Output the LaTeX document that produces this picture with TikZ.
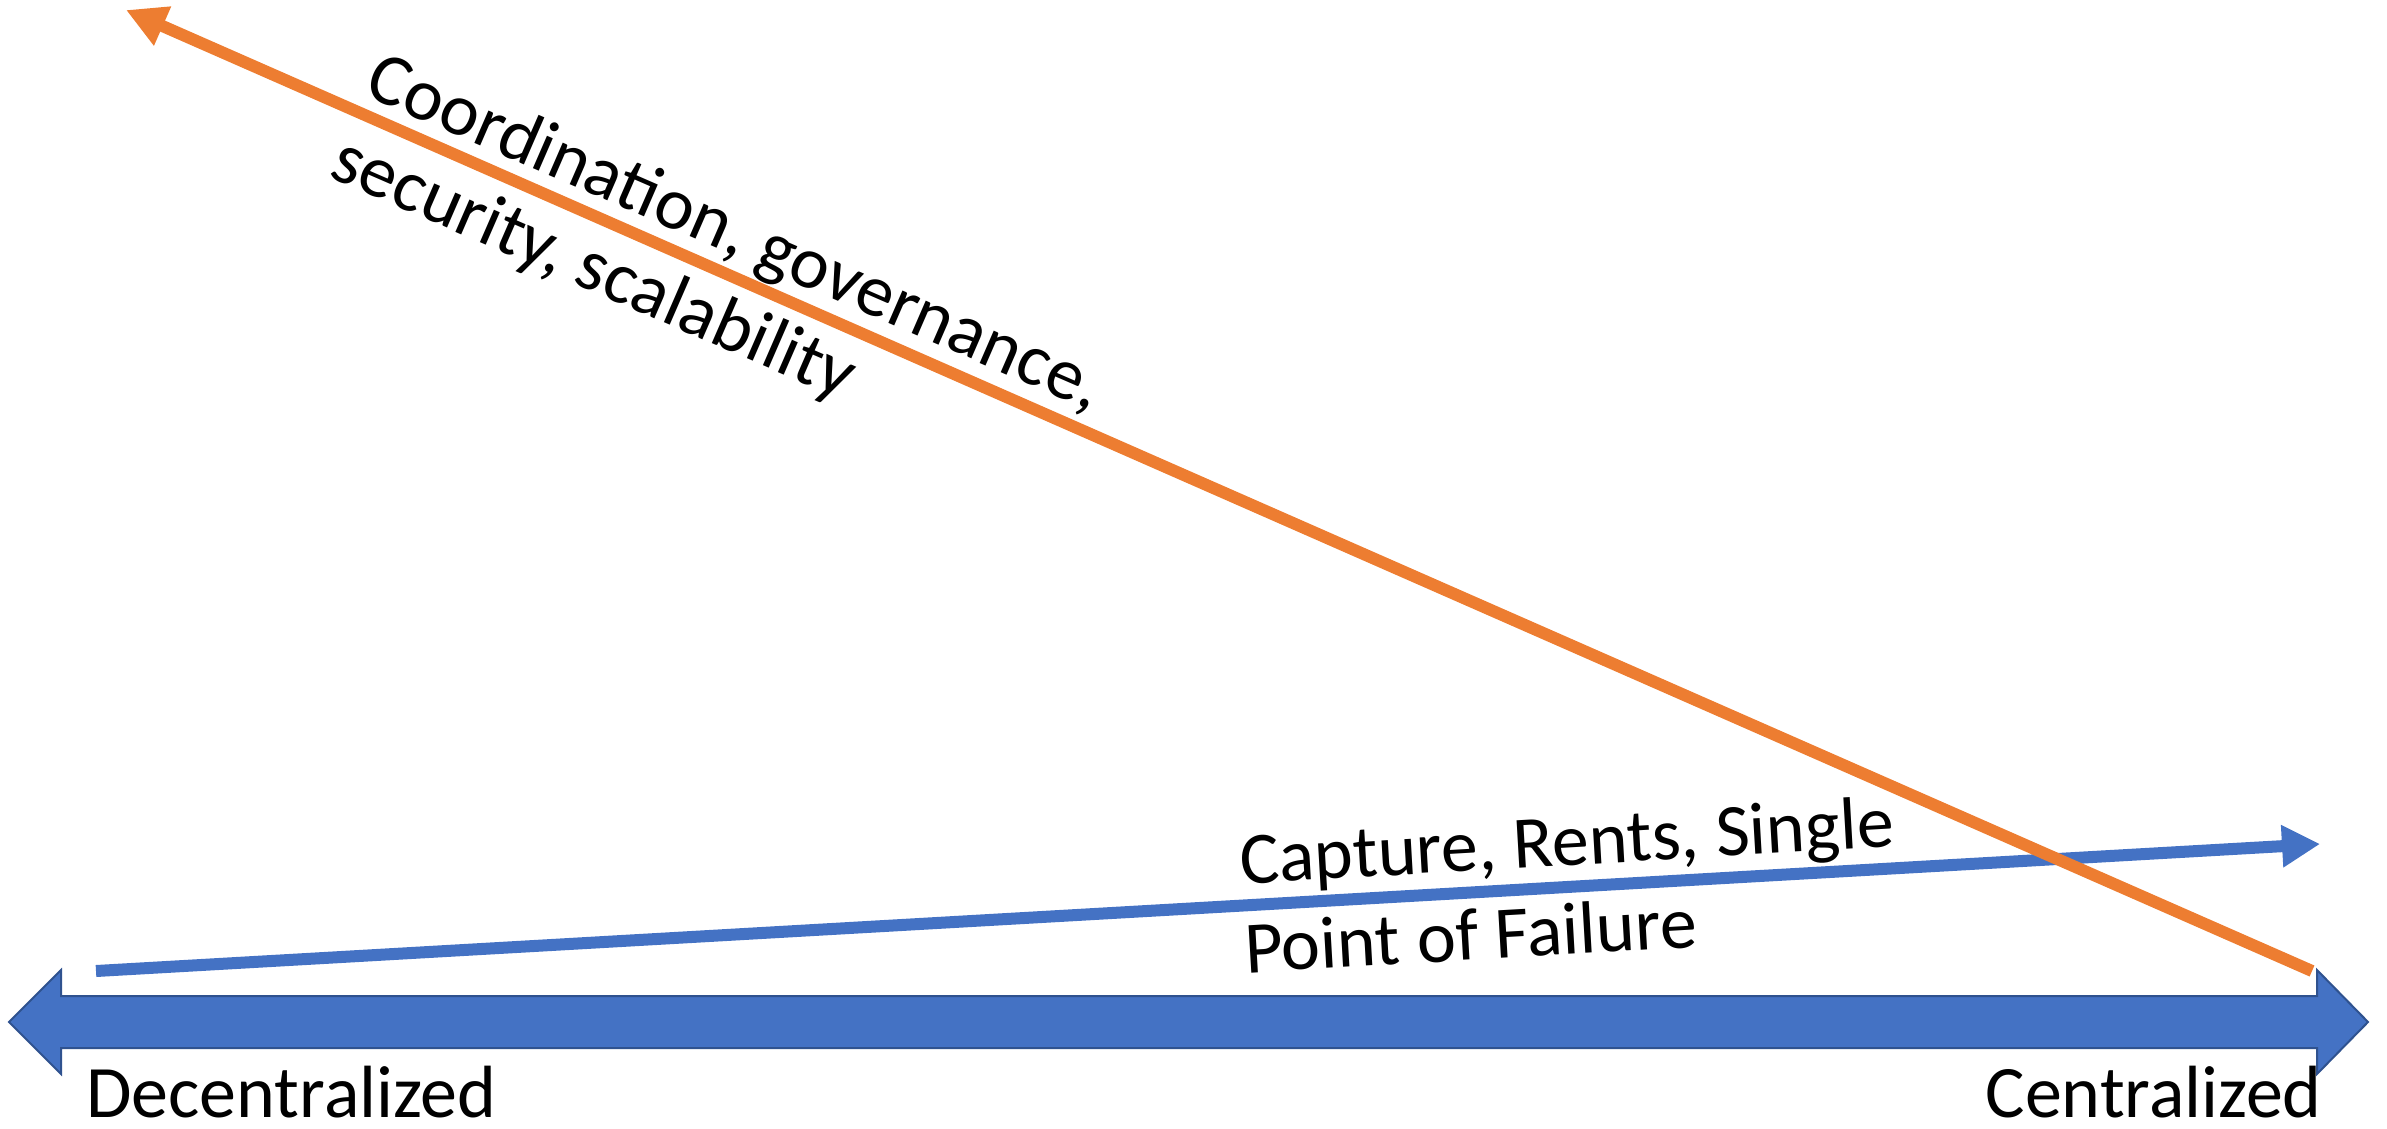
\documentclass[tikz,border=0pt]{standalone}
\usepackage{fontspec}
\setmainfont{Carlito}
\usetikzlibrary{arrows.meta}
\definecolor{axisblue}{HTML}{4472C4}
\definecolor{axisedge}{HTML}{2F528F}
\definecolor{trendorange}{HTML}{ED7D31}
\begin{document}
\begin{tikzpicture}[x=1pt,y=-1pt,
  endlabel/.style={font=\fontsize{74}{89}\selectfont, inner sep=0pt},
  % multi-line labels: the base anchor sits on the last line
  slantlabel/.style={font=\fontsize{74}{89}\selectfont, inner sep=0pt, align=left, anchor=base west},
  trend/.style={line width=12pt, line cap=butt},
  axis/.style={fill=axisblue, draw=axisedge, line width=2pt, line join=miter},
]
\useasboundingbox (0,0) rectangle (2387,1128);

% spectrum axis: a wide double-headed arrow
\coordinate (left tip) at (9,1022);
\coordinate (right tip) at (2368,1022);
\draw[axis] (left tip) -- (61,970) -- (61,996) -- (2317,996) -- (2317,970)
  -- (right tip) -- (2317,1074) -- (2317,1048) -- (61,1048) -- (61,1074) -- cycle;

% risk trend, rising slowly towards centralization
\coordinate (risk start) at (96,971);
\coordinate (risk end) at (2320,844);
\draw[trend, axisblue, -{Triangle[length=38pt,width=40pt]}] (risk start) -- (risk end);

% cost trend, rising steeply towards decentralization
\coordinate (cost start) at (2312,971);
\coordinate (cost end) at (126,10);
\draw[trend, trendorange, -{Triangle[length=40pt,width=40pt]}] (cost start) -- (cost end);

% texts
\node[endlabel, anchor=base west] (dec) at (86,1117) {Decentralized};
\node[endlabel, anchor=base east] (cen) at (2322,1117) {Centralized};
\node[slantlabel, rotate=-23.5] (costs) at (327,176) {Coordination, governance,\\security, scalability};
\node[slantlabel, rotate=3.3] (risks) at (1246,973) {Capture, Rents, Single\\Point of Failure};
\end{tikzpicture}
\end{document}
